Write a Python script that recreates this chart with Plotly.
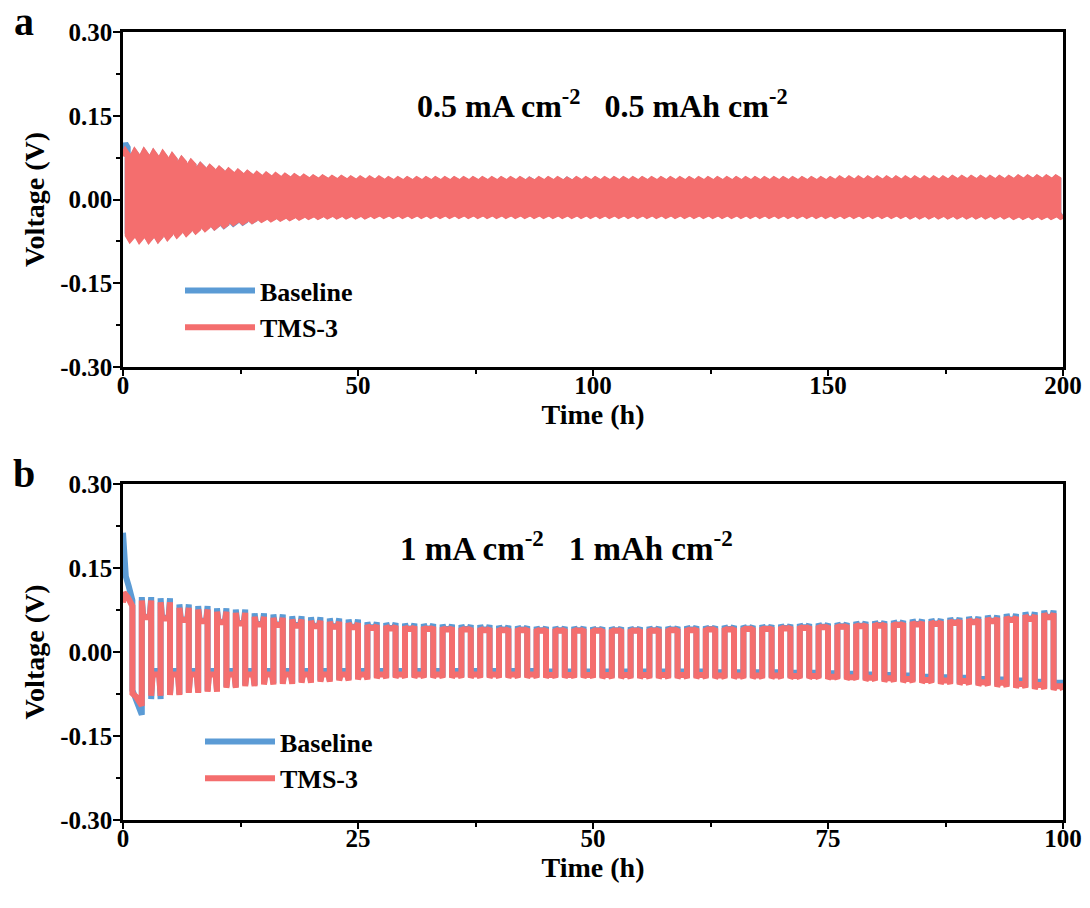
import plotly.graph_objects as go

BLUE = "#5B9BD5"
RED = "#F46E6E"
FONT = "Liberation Serif"

# ---------------- Panel a: 0.5 mA cm-2, 0.5 mAh cm-2 (1 h per half cycle) ----------------
A_HALF_H = 1.0
# plateau voltage of the plating (+) and stripping (-) half of each cycle, V
a_tms_pos = [0.086, 0.085, 0.085, 0.083, 0.081, 0.077, 0.071, 0.066, 0.060, 0.057,
             0.054, 0.051, 0.049, 0.047, 0.045, 0.044, 0.043, 0.042, 0.041, 0.040,
             0.039, 0.039, 0.038, 0.038, 0.037, 0.037, 0.037, 0.037, 0.036, 0.036,
             0.036, 0.036, 0.036, 0.036, 0.036, 0.036, 0.036, 0.036, 0.036, 0.036,
             0.036, 0.036, 0.036, 0.035, 0.036, 0.036, 0.036, 0.035, 0.036, 0.036,
             0.036, 0.036, 0.036, 0.036, 0.036, 0.036, 0.036, 0.036, 0.036, 0.036,
             0.036, 0.036, 0.036, 0.036, 0.036, 0.036, 0.036, 0.036, 0.036, 0.036,
             0.036, 0.036, 0.036, 0.036, 0.036, 0.036, 0.037, 0.037, 0.037, 0.037,
             0.037, 0.037, 0.037, 0.037, 0.037, 0.037, 0.037, 0.037, 0.038, 0.038,
             0.038, 0.038, 0.038, 0.038, 0.038, 0.039, 0.039, 0.039, 0.039, 0.039]
a_tms_neg = [-0.071, -0.072, -0.072, -0.071, -0.067, -0.063, -0.060, -0.056, -0.052, -0.049,
             -0.046, -0.042, -0.040, -0.038, -0.036, -0.035, -0.034, -0.033, -0.032, -0.031,
             -0.031, -0.030, -0.030, -0.030, -0.030, -0.030, -0.029, -0.029, -0.029, -0.029,
             -0.029, -0.029, -0.029, -0.029, -0.029, -0.029, -0.029, -0.029, -0.029, -0.029,
             -0.029, -0.029, -0.029, -0.029, -0.029, -0.029, -0.029, -0.029, -0.029, -0.029,
             -0.029, -0.029, -0.029, -0.029, -0.029, -0.029, -0.029, -0.029, -0.029, -0.029,
             -0.029, -0.029, -0.029, -0.029, -0.029, -0.029, -0.029, -0.029, -0.029, -0.029,
             -0.029, -0.029, -0.029, -0.029, -0.029, -0.029, -0.029, -0.029, -0.029, -0.029,
             -0.029, -0.029, -0.029, -0.030, -0.030, -0.030, -0.030, -0.030, -0.030, -0.030,
             -0.030, -0.030, -0.030, -0.030, -0.031, -0.031, -0.031, -0.031, -0.031, -0.031]
a_base_pos = [0.100, 0.084, 0.084, 0.082, 0.080, 0.076, 0.070, 0.065, 0.060, 0.056,
              0.053, 0.050, 0.048, 0.046, 0.044, 0.043, 0.042, 0.041, 0.040, 0.039,
              0.038, 0.038, 0.037, 0.037, 0.036, 0.036, 0.036, 0.036, 0.035, 0.035,
              0.035, 0.035, 0.035, 0.035, 0.035, 0.035, 0.035, 0.035, 0.035, 0.035,
              0.035, 0.035, 0.035, 0.035, 0.035, 0.035, 0.035, 0.035, 0.035, 0.035,
              0.035, 0.035, 0.035, 0.035, 0.035, 0.035, 0.035, 0.035, 0.035, 0.035,
              0.035, 0.035, 0.035, 0.035, 0.035, 0.035, 0.035, 0.035, 0.035, 0.035,
              0.035, 0.035, 0.035, 0.035, 0.035, 0.035, 0.036, 0.036, 0.036, 0.036,
              0.036, 0.036, 0.036, 0.036, 0.036, 0.036, 0.036, 0.036, 0.037, 0.037,
              0.037, 0.037, 0.037, 0.037, 0.037, 0.038, 0.038, 0.038, 0.038, 0.038]
a_base_neg = [-0.066, -0.070, -0.071, -0.070, -0.066, -0.062, -0.059, -0.055, -0.051, -0.049,
              -0.047, -0.043, -0.041, -0.038, -0.035, -0.034, -0.033, -0.032, -0.031, -0.030,
              -0.030, -0.029, -0.029, -0.029, -0.029, -0.029, -0.028, -0.028, -0.028, -0.028,
              -0.028, -0.028, -0.028, -0.028, -0.028, -0.028, -0.028, -0.028, -0.028, -0.028,
              -0.028, -0.028, -0.028, -0.028, -0.028, -0.028, -0.028, -0.028, -0.028, -0.028,
              -0.028, -0.028, -0.028, -0.028, -0.028, -0.028, -0.028, -0.028, -0.028, -0.028,
              -0.028, -0.028, -0.028, -0.028, -0.028, -0.028, -0.028, -0.028, -0.028, -0.028,
              -0.028, -0.028, -0.028, -0.028, -0.028, -0.028, -0.028, -0.028, -0.028, -0.028,
              -0.028, -0.028, -0.028, -0.029, -0.029, -0.029, -0.029, -0.029, -0.029, -0.029,
              -0.029, -0.029, -0.029, -0.029, -0.030, -0.030, -0.030, -0.030, -0.030, -0.030]
# relative level across one half cycle (fraction of the half, fraction of the plateau)
a_half_frac = [0.0, 0.5, 1.0]
a_half_level = [0.90, 1.0, 0.93]

# ---------------- Panel b: 1 mA cm-2, 1 mAh cm-2 (1 h per half cycle) ----------------
B_HALF_H = 1.0
# first cycle recorded point by point (formation transient)
b_base_first_t = [0.0, 0.12, 0.3, 0.6, 1.0, 1.0, 1.4, 2.0]
b_base_first_v = [0.213, 0.160, 0.135, 0.118, 0.092, -0.068, -0.085, -0.112]
b_tms_first_t = [0.0, 0.1, 0.5, 1.0, 1.0, 1.4, 2.0]
b_tms_first_v = [0.088, 0.106, 0.098, 0.082, -0.074, -0.080, -0.096]
# cycles 2..50: switching overshoot (peak) and mid-half plateau, V
b_tms_pos_peak = [0.092, 0.089, 0.079, 0.076, 0.072, 0.070, 0.063, 0.061, 0.058, 0.056,
                  0.054, 0.052, 0.048, 0.047, 0.046, 0.045, 0.044, 0.043, 0.043, 0.042,
                  0.042, 0.041, 0.041, 0.041, 0.040, 0.040, 0.040, 0.041, 0.041, 0.042,
                  0.042, 0.043, 0.043, 0.044, 0.045, 0.046, 0.047, 0.048, 0.050, 0.051,
                  0.052, 0.054, 0.055, 0.057, 0.059, 0.061, 0.063, 0.066, 0.069]
b_tms_pos_plat = [0.062, 0.060, 0.057, 0.055, 0.053, 0.051, 0.049, 0.048, 0.047, 0.046,
                  0.045, 0.044, 0.043, 0.042, 0.041, 0.041, 0.040, 0.040, 0.039, 0.039,
                  0.039, 0.038, 0.038, 0.038, 0.038, 0.038, 0.038, 0.038, 0.039, 0.039,
                  0.040, 0.040, 0.041, 0.041, 0.042, 0.043, 0.044, 0.045, 0.046, 0.047,
                  0.048, 0.049, 0.050, 0.052, 0.053, 0.055, 0.057, 0.059, 0.062]
b_tms_neg_peak = [-0.078, -0.077, -0.073, -0.071, -0.064, -0.061, -0.058, -0.057, -0.055, -0.053,
                  -0.051, -0.049, -0.047, -0.046, -0.046, -0.046, -0.046, -0.046, -0.046, -0.046,
                  -0.046, -0.046, -0.046, -0.046, -0.047, -0.047, -0.047, -0.047, -0.047, -0.047,
                  -0.047, -0.047, -0.047, -0.047, -0.047, -0.047, -0.048, -0.049, -0.051, -0.053,
                  -0.054, -0.055, -0.057, -0.058, -0.060, -0.062, -0.064, -0.066, -0.068]
b_tms_neg_plat = [-0.040, -0.040, -0.040, -0.040, -0.040, -0.040, -0.040, -0.040, -0.040, -0.040,
                  -0.040, -0.040, -0.040, -0.040, -0.040, -0.040, -0.040, -0.040, -0.040, -0.040,
                  -0.040, -0.041, -0.041, -0.041, -0.041, -0.041, -0.041, -0.041, -0.041, -0.041,
                  -0.042, -0.042, -0.042, -0.042, -0.043, -0.043, -0.044, -0.045, -0.046, -0.047,
                  -0.048, -0.050, -0.051, -0.052, -0.054, -0.055, -0.057, -0.059, -0.061]
b_base_pos_peak = [0.098, 0.096, 0.085, 0.082, 0.078, 0.076, 0.069, 0.067, 0.064, 0.062,
                   0.060, 0.058, 0.053, 0.052, 0.051, 0.050, 0.049, 0.048, 0.048, 0.047,
                   0.046, 0.045, 0.045, 0.045, 0.044, 0.044, 0.044, 0.045, 0.045, 0.046,
                   0.046, 0.047, 0.047, 0.048, 0.049, 0.050, 0.051, 0.052, 0.054, 0.055,
                   0.056, 0.058, 0.059, 0.061, 0.063, 0.065, 0.068, 0.071, 0.074]
b_base_pos_plat = [0.063, 0.061, 0.058, 0.056, 0.054, 0.052, 0.050, 0.049, 0.048, 0.047,
                   0.046, 0.045, 0.044, 0.043, 0.042, 0.042, 0.041, 0.041, 0.040, 0.040,
                   0.040, 0.039, 0.039, 0.039, 0.039, 0.039, 0.039, 0.039, 0.040, 0.040,
                   0.041, 0.041, 0.042, 0.042, 0.043, 0.044, 0.045, 0.046, 0.047, 0.048,
                   0.049, 0.050, 0.051, 0.053, 0.054, 0.056, 0.058, 0.060, 0.063]
b_base_neg_peak = [-0.084, -0.075, -0.071, -0.069, -0.062, -0.059, -0.056, -0.055, -0.053, -0.051,
                   -0.049, -0.047, -0.045, -0.044, -0.044, -0.044, -0.044, -0.044, -0.044, -0.044,
                   -0.044, -0.044, -0.044, -0.044, -0.045, -0.045, -0.045, -0.045, -0.045, -0.045,
                   -0.045, -0.045, -0.045, -0.045, -0.045, -0.045, -0.046, -0.047, -0.049, -0.051,
                   -0.052, -0.053, -0.055, -0.056, -0.058, -0.060, -0.062, -0.064, -0.066]
b_base_neg_plat = [-0.034, -0.034, -0.034, -0.034, -0.034, -0.034, -0.034, -0.034, -0.034, -0.034,
                   -0.034, -0.034, -0.034, -0.034, -0.034, -0.034, -0.034, -0.034, -0.034, -0.034,
                   -0.034, -0.035, -0.035, -0.035, -0.035, -0.035, -0.035, -0.035, -0.035, -0.035,
                   -0.036, -0.036, -0.036, -0.036, -0.037, -0.037, -0.038, -0.039, -0.040, -0.041,
                   -0.042, -0.044, -0.045, -0.046, -0.048, -0.049, -0.051, -0.053, -0.055]
# position of the overshoot / plateau points inside each half cycle
b_half_frac = [0.0, 0.15, 0.85, 1.0]


def profile_a(pos, neg, half):
    """Plating / stripping halves drawn with a gentle hump over each half."""
    t, v = [], []
    start = 0.0
    for p, n in zip(pos, neg):
        for level in (p, n):
            for f, r in zip(a_half_frac, a_half_level):
                t.append(start + f * half)
                v.append(level * r)
            start += half
    return t, v


def profile_b(pos_peak, pos_plat, neg_peak, neg_plat, half, t0, t_first, v_first):
    """Each half: overshoot at switching, plateau, overshoot at next switching."""
    t, v = list(t_first), list(v_first)
    start = t0
    for pk, pl, nk, nl in zip(pos_peak, pos_plat, neg_peak, neg_plat):
        for a, b in ((pk, pl), (nk, nl)):
            for f, val in zip(b_half_frac, (a, b, b, a)):
                t.append(start + f * half)
                v.append(val)
            start += half
    return t, v


ta_b, va_b = profile_a(a_base_pos, a_base_neg, A_HALF_H)
ta_t, va_t = profile_a(a_tms_pos, a_tms_neg, A_HALF_H)
tb_b, vb_b = profile_b(b_base_pos_peak, b_base_pos_plat, b_base_neg_peak, b_base_neg_plat,
                       B_HALF_H, 2 * B_HALF_H, b_base_first_t, b_base_first_v)
tb_t, vb_t = profile_b(b_tms_pos_peak, b_tms_pos_plat, b_tms_neg_peak, b_tms_neg_plat,
                       B_HALF_H, 2 * B_HALF_H, b_tms_first_t, b_tms_first_v)

LW = 6
fig = go.Figure()
fig.add_trace(go.Scatter(x=ta_b, y=va_b, mode="lines", name="Baseline",
                         line=dict(color=BLUE, width=LW), xaxis="x", yaxis="y",
                         legend="legend"))
fig.add_trace(go.Scatter(x=ta_t, y=va_t, mode="lines", name="TMS-3",
                         line=dict(color=RED, width=LW), xaxis="x", yaxis="y",
                         legend="legend"))
fig.add_trace(go.Scatter(x=tb_b, y=vb_b, mode="lines", name="Baseline",
                         line=dict(color=BLUE, width=LW), xaxis="x2", yaxis="y2",
                         legend="legend2"))
fig.add_trace(go.Scatter(x=tb_t, y=vb_t, mode="lines", name="TMS-3",
                         line=dict(color=RED, width=LW), xaxis="x2", yaxis="y2",
                         legend="legend2"))

W, H = 1090, 908
xdom = [123 / W, 1063 / W]
ya_dom = [1 - 367 / H, 1 - 32 / H]
yb_dom = [1 - 820 / H, 1 - 484 / H]

tickfont = dict(family=FONT, size=25, color="black", weight="bold")
titlefont = dict(family=FONT, size=28, color="black", weight="bold")

common_x = dict(showline=True, linecolor="black", linewidth=2.5, mirror=True,
                ticks="outside", ticklen=6, tickwidth=2, tickcolor="black",
                showgrid=False, zeroline=False, tickfont=tickfont, automargin=False,
                ticklabelstandoff=-12,
                title=dict(text="Time (h)", font=titlefont, standoff=0))
common_y = dict(showline=True, linecolor="black", linewidth=2.5, mirror=True,
                ticks="outside", ticklen=7, tickwidth=2, tickcolor="black",
                showgrid=False, zeroline=False, tickfont=tickfont, automargin=False,
                ticklabelstandoff=-4,
                range=[-0.3, 0.3], tickvals=[-0.30, -0.15, 0.0, 0.15, 0.30],
                ticktext=["-0.30", "-0.15", "0.00", "0.15", "0.30"],
                minor=dict(dtick=0.075, tick0=0, ticks="outside", ticklen=4,
                           tickwidth=2, tickcolor="black"),
                title=dict(text="Voltage (V)", font=titlefont, standoff=8))

legend_common = dict(font=dict(family=FONT, size=26, color="black", weight="bold"),
                     bgcolor="rgba(0,0,0,0)", itemwidth=70, tracegroupgap=0,
                     xanchor="left", yanchor="middle")

fig.update_layout(
    width=W, height=H,
    margin=dict(l=0, r=0, t=0, b=0, autoexpand=False),
    paper_bgcolor="white", plot_bgcolor="white",
    xaxis=dict(common_x, domain=xdom, anchor="y", range=[0, 200],
               tickvals=[0, 50, 100, 150, 200],
               minor=dict(dtick=25, tick0=0, ticks="outside", ticklen=4,
                          tickwidth=2, tickcolor="black")),
    yaxis=dict(common_y, domain=ya_dom, anchor="x"),
    xaxis2=dict(common_x, domain=xdom, anchor="y2", range=[0, 100],
                tickvals=[0, 25, 50, 75, 100],
                minor=dict(dtick=12.5, tick0=0, ticks="outside", ticklen=4,
                           tickwidth=2, tickcolor="black")),
    yaxis2=dict(common_y, domain=yb_dom, anchor="x2"),
    legend=dict(legend_common, x=180 / W, y=1 - 309 / H),
    legend2=dict(legend_common, x=200 / W, y=1 - 760 / H),
    showlegend=True,
    annotations=[
        dict(text="<b>0.5 mA cm<sup>-2</sup>\u00a0\u00a0 0.5 mAh cm<sup>-2</sup></b>",
             xref="paper", yref="paper", x=603 / W, y=1 - 104 / H,
             xanchor="center", yanchor="middle",
             showarrow=False, font=dict(family=FONT, size=32, color="black")),
        dict(text="<b>1 mA cm<sup>-2</sup>\u00a0\u00a0 1 mAh cm<sup>-2</sup></b>",
             xref="paper", yref="paper", x=566 / W, y=1 - 546 / H,
             xanchor="center", yanchor="middle",
             showarrow=False, font=dict(family=FONT, size=33, color="black")),
        dict(text="<b>a</b>", xref="paper", yref="paper", x=24 / W, y=1 - 22 / H,
             xanchor="center", yanchor="middle",
             showarrow=False, font=dict(family=FONT, size=40, color="black")),
        dict(text="<b>b</b>", xref="paper", yref="paper", x=24 / W, y=1 - 474 / H,
             xanchor="center", yanchor="middle",
             showarrow=False, font=dict(family=FONT, size=40, color="black")),
    ],
)

fig.write_html("out.html")
